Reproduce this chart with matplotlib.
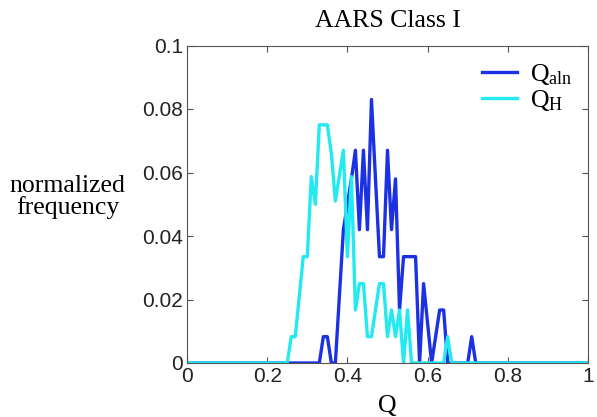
import matplotlib
matplotlib.use("Agg")
import matplotlib.pyplot as plt

# Q bins
q = [0.0, 0.24, 0.25, 0.26, 0.27, 0.28, 0.29, 0.30, 0.31, 0.32, 0.33, 0.34, 0.35,
     0.36, 0.37, 0.38, 0.39, 0.40, 0.41, 0.42, 0.43, 0.44, 0.45, 0.46, 0.47,
     0.48, 0.49, 0.50, 0.51, 0.52, 0.53, 0.54, 0.55, 0.56, 0.57, 0.58, 0.59,
     0.60, 0.61, 0.62, 0.63, 0.64, 0.65, 0.66, 0.67, 0.68, 0.69, 0.70, 0.71,
     0.72, 0.73, 1.0]

# Q_aln normalized frequency
f_aln = [0.0, 0.0, 0.0, 0.0, 0.0, 0.0, 0.0, 0.0, 0.0, 0.0, 0.0, 0.0083, 0.0083,
         0.0, 0.0, 0.021, 0.042, 0.050, 0.058, 0.067, 0.042, 0.067, 0.042, 0.083, 0.058,
         0.0335, 0.0335, 0.067, 0.042, 0.058, 0.0167, 0.0335, 0.0335, 0.0335, 0.0335, 0.0, 0.025,
         0.0125, 0.0, 0.0083, 0.0167, 0.0167, 0.0, 0.0, 0.0, 0.0, 0.0, 0.0, 0.0083,
         0.0, 0.0, 0.0]

# Q_H normalized frequency
f_h = [0.0, 0.0, 0.0, 0.0083, 0.0083, 0.021, 0.0335, 0.0335, 0.0587, 0.050, 0.075, 0.075, 0.075,
       0.066, 0.051, 0.059, 0.067, 0.0335, 0.0587, 0.0167, 0.025, 0.025, 0.0083, 0.0083, 0.0167,
       0.025, 0.025, 0.0083, 0.0167, 0.0083, 0.0167, 0.0, 0.0167, 0.0, 0.0, 0.0, 0.0,
       0.0, 0.0, 0.0, 0.0, 0.0, 0.0083, 0.0, 0.0, 0.0, 0.0, 0.0, 0.0,
       0.0, 0.0, 0.0]

xticks = [0, 0.2, 0.4, 0.6, 0.8, 1]
xticklabels = ["0", "0.2", "0.4", "0.6", "0.8", "1"]
yticks = [0, 0.02, 0.04, 0.06, 0.08, 0.1]
yticklabels = ["0", "0.02", "0.04", "0.06", "0.08", "0.1"]

plt.rcParams['mathtext.fontset'] = 'custom'
plt.rcParams['mathtext.rm'] = 'Liberation Serif'
plt.rcParams['mathtext.it'] = 'Liberation Serif:italic'

serif = 'Liberation Serif'
sans = 'Liberation Sans'
fs = 18.5

fig = plt.figure(figsize=(5.97, 4.17), dpi=100)
ax = fig.add_axes([187/597, 54/417, 401/597, 317.5/417])

blue = '#1c30e4'
cyan = '#22eaf0'
ax.plot(q, f_aln, color=blue, lw=2.4, label=r'$\mathrm{Q_{aln}}$')
ax.plot(q, f_h, color=cyan, lw=2.4, label=r'$\mathrm{Q_{H}}$')

ax.set_xlim(0, 1)
ax.set_ylim(0, 0.1)
ax.set_xticks(xticks)
ax.set_xticklabels(xticklabels, fontfamily=sans, fontsize=15, color='#222222')
ax.set_yticks(yticks)
ax.set_yticklabels(yticklabels, fontfamily=sans, fontsize=15, color='#222222')
ax.tick_params(direction='in', top=True, right=True, length=4, width=0.8,
               color='#555555', pad=3)
for s in ax.spines.values():
    s.set_color('#555555')
    s.set_linewidth(0.8)

ax.set_title('AARS Class I', fontfamily=serif, fontsize=fs, pad=13)
ax.set_xlabel('Q', fontfamily=serif, fontsize=fs, labelpad=6)
fig.text(67.5/597, 1 - 197/417, 'normalized\nfrequency', fontfamily=serif, fontsize=fs,
         ha='center', va='center', linespacing=1.0)

leg = ax.legend(loc='upper right', bbox_to_anchor=(1.0, 0.996), frameon=False,
                prop={'family': serif, 'size': fs},
                handlelength=1.36, handletextpad=0.5, labelspacing=0.02,
                borderaxespad=0.2)

fig.savefig('out.png', dpi=100)
